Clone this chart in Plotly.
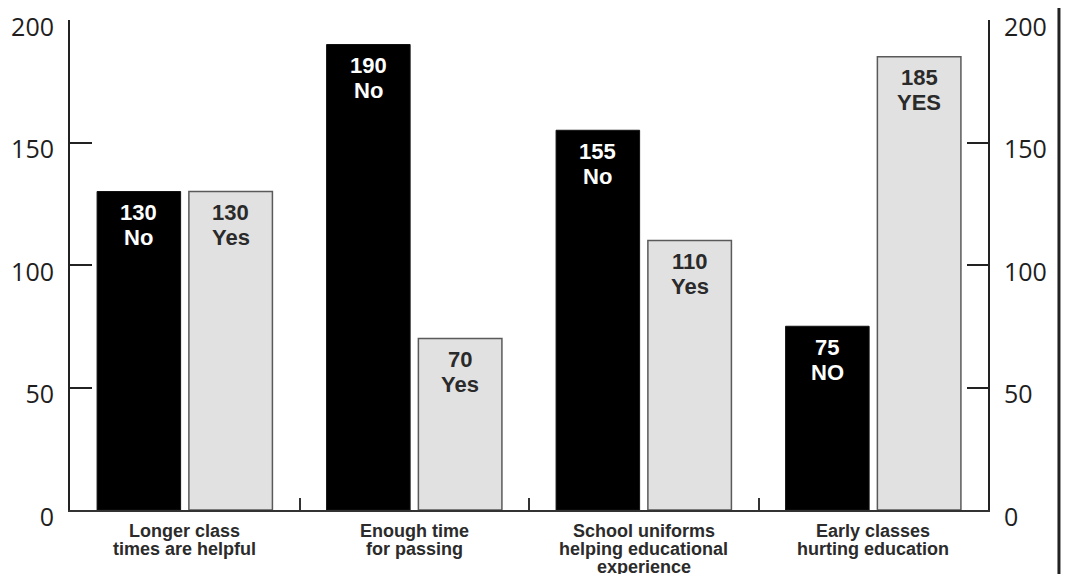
import plotly.graph_objects as go

categories = ["Longer class<br>times are helpful",
              "Enough time<br>for passing",
              "School uniforms<br>helping educational<br>experience",
              "Early classes<br>hurting education"]
no_values = [130, 190, 155, 75]
yes_values = [130, 70, 110, 185]
no_words = ["No", "No", "No", "NO"]
yes_words = ["Yes", "Yes", "Yes", "YES"]
y_ticks = [0, 50, 100, 150, 200]

cat_ids = [f"c{i}" for i in range(len(categories))]

fig = go.Figure()
fig.add_trace(go.Bar(x=cat_ids, y=no_values, name="No",
                     marker=dict(color="#000000", line=dict(color="#111111", width=1)),
                     hoverinfo="skip"))
fig.add_trace(go.Bar(x=cat_ids, y=yes_values, name="Yes",
                     marker=dict(color="#e1e1e1", line=dict(color="#5a5a5a", width=1.5)),
                     hoverinfo="skip"))
# invisible trace to activate the right-hand axis
fig.add_trace(go.Scatter(x=cat_ids, y=yes_values, yaxis="y2", mode="none",
                         showlegend=False, hoverinfo="skip"))

annotations = []
bar_font = "Liberation Sans, Arial, sans-serif"
for c, v, w in zip(cat_ids, no_values, no_words):
    annotations.append(dict(x=c, y=v, xref="x", yref="y", text=f"<b>{v}</b>", showarrow=False,
                            xshift=-46, yshift=-21, yanchor="middle",
                            font=dict(family=bar_font, size=22, color="#ffffff")))
    annotations.append(dict(x=c, y=v, xref="x", yref="y", text=f"<b>{w}</b>", showarrow=False,
                            xshift=-46, yshift=-46, yanchor="middle",
                            font=dict(family=bar_font, size=22, color="#ffffff")))
for c, v, w in zip(cat_ids, yes_values, yes_words):
    annotations.append(dict(x=c, y=v, xref="x", yref="y", text=f"<b>{v}</b>", showarrow=False,
                            xshift=46, yshift=-21, yanchor="middle",
                            font=dict(family=bar_font, size=22, color="#2a2a2a")))
    annotations.append(dict(x=c, y=v, xref="x", yref="y", text=f"<b>{w}</b>", showarrow=False,
                            xshift=46, yshift=-46, yanchor="middle",
                            font=dict(family=bar_font, size=22, color="#2a2a2a")))

# category labels, one annotation per line for tight leading
for c, lab in zip(cat_ids, categories):
    for i, line in enumerate(lab.split("<br>")):
        annotations.append(dict(x=c, y=0, xref="x", yref="y", text=f"<b>{line}</b>",
                                showarrow=False, yanchor="middle", yshift=-21 - 18 * i,
                                font=dict(family=bar_font, size=18, color="#2b2b2b")))

tick_font = dict(family="Open Sans, sans-serif", size=25, color="#1e1e1e")

fig.update_layout(
    width=1070, height=574,
    margin=dict(l=62, r=90, t=12, b=72, autoexpand=False),
    paper_bgcolor="white", plot_bgcolor="white",
    showlegend=False,
    barmode="group", bargap=0.2, bargroupgap=0.09,
    xaxis=dict(type="category", categoryarray=cat_ids, showticklabels=False,
               tickson="boundaries", ticks="inside", ticklen=12, tickwidth=2,
               tickcolor="#333333", showline=True, linecolor="#333333", linewidth=2,
               showgrid=False, zeroline=False, fixedrange=True, automargin=False),
    yaxis=dict(range=[0, 200], tickvals=y_ticks, ticks="inside", ticklen=22, tickwidth=2,
               tickcolor="#222222", showline=True, linecolor="#222222", linewidth=2,
               showgrid=False, zeroline=False, tickfont=tick_font, automargin=False,
               ticklabelstandoff=9, ticklabelshift=7),
    yaxis2=dict(range=[0, 200], tickvals=y_ticks, overlaying="y", side="right", anchor="x",
                ticks="inside", ticklen=21, tickwidth=2, tickcolor="#222222",
                showline=True, linecolor="#222222", linewidth=2, showgrid=False,
                zeroline=False, tickfont=tick_font, automargin=False,
                ticklabelstandoff=9, ticklabelshift=7),
    annotations=annotations,
    shapes=[dict(type="line", xref="paper", yref="paper", x0=1.0773, x1=1.0773,
                 y0=-0.3, y1=1.1, line=dict(color="#222222", width=3))],
)

fig.write_html("out.html")
